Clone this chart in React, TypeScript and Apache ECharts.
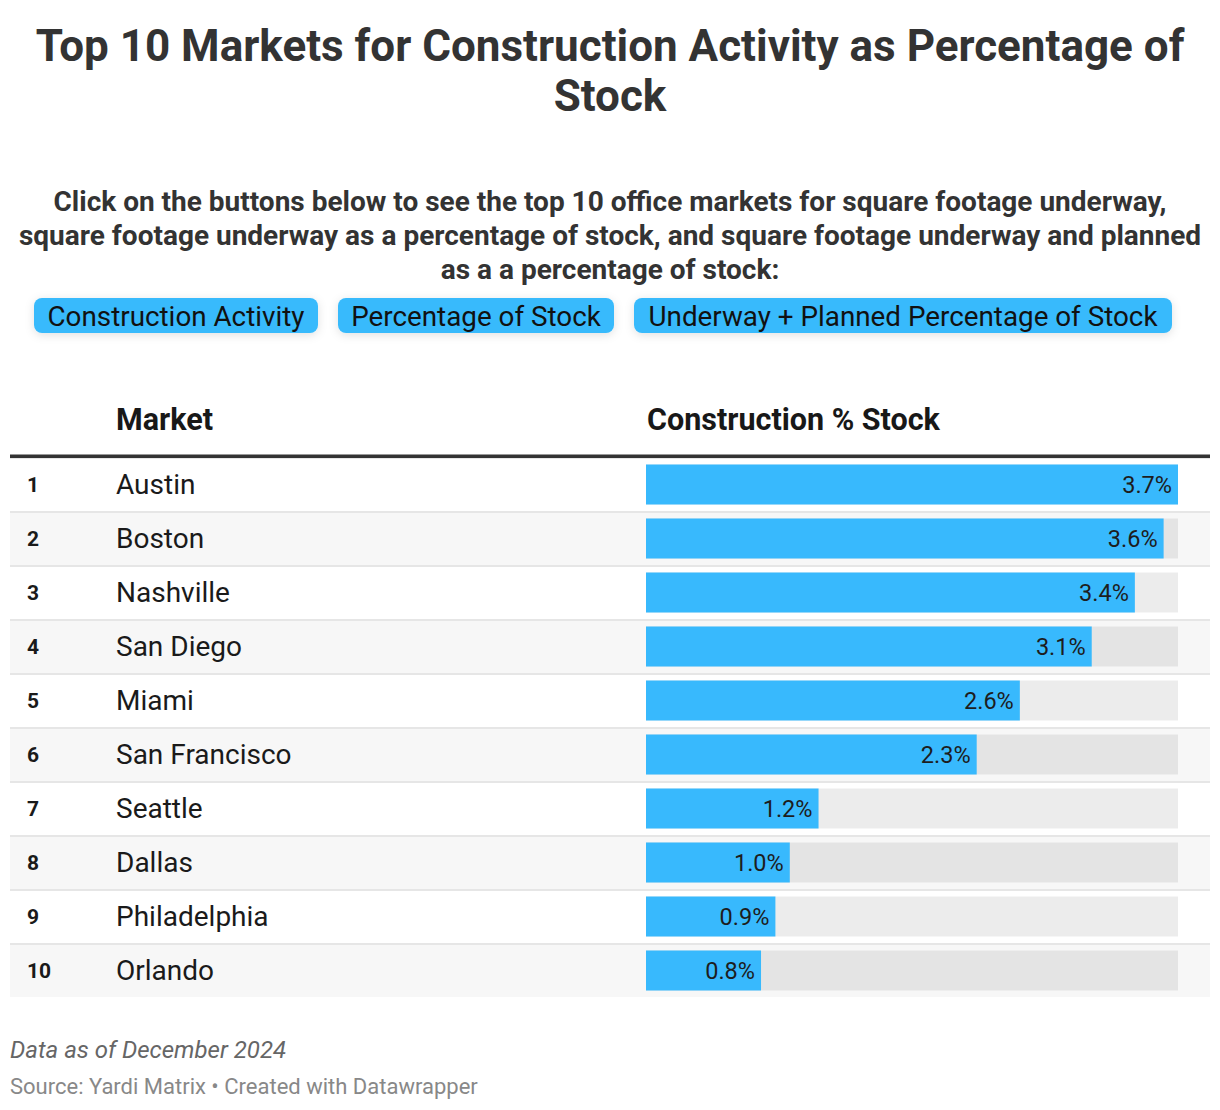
import React, { useEffect, useRef } from "react";
import * as echarts from "echarts";

const ranks = [1, 2, 3, 4, 5, 6, 7, 8, 9, 10];
const markets = [
  "Austin",
  "Boston",
  "Nashville",
  "San Diego",
  "Miami",
  "San Francisco",
  "Seattle",
  "Dallas",
  "Philadelphia",
  "Orlando",
];
const values = [3.7, 3.6, 3.4, 3.1, 2.6, 2.3, 1.2, 1.0, 0.9, 0.8];
const buttons = [
  "Construction Activity",
  "Percentage of Stock",
  "Underway + Planned Percentage of Stock",
];
const titleLines = ["Top 10 Markets for Construction Activity as Percentage of", "Stock"];
const subtitleLines = [
  "Click on the buttons below to see the top 10 office markets for square footage underway,",
  "square footage underway as a percentage of stock, and square footage underway and planned",
  "as a a percentage of stock:",
];
const colHeaders = ["Market", "Construction % Stock"];
const noteText = "Data as of December 2024";
const sourceText = "Source: Yardi Matrix \u2022 Created with Datawrapper";

const FONT = "Roboto, 'Noto Sans', sans-serif";

export default function App() {
  const ref = useRef<HTMLDivElement>(null);
  useEffect(() => {
    document.body.style.margin = "0";
    if (!ref.current) return;
    const chart = echarts.init(ref.current, null, { renderer: "svg" });

    const btnBoxes = [
      { x: 34, w: 284 },
      { x: 338, w: 276 },
      { x: 634, w: 538 },
    ];

    const centeredLines = (lines: string[], y0: number, step: number, size: number) =>
      lines.map((t, i) => ({
        type: "text",
        x: 610,
        y: y0 + i * step,
        style: {
          text: t,
          fontFamily: FONT,
          fontSize: size,
          fontWeight: "bold",
          fill: "#333333",
          align: "center",
          verticalAlign: "middle",
        },
      }));

    const option: any = {
      animation: false,
      backgroundColor: "#ffffff",
      textStyle: { fontFamily: FONT },
      graphic: [
        ...centeredLines(titleLines, 46, 50, 44),
        ...centeredLines(subtitleLines, 201, 34, 28),
        ...buttons.map((b, i) => ({
          type: "group",
          children: [
            {
              type: "rect",
              shape: { x: btnBoxes[i].x, y: 298, width: btnBoxes[i].w, height: 35, r: 8 },
              style: {
                fill: "#38bafc",
                shadowBlur: 10,
                shadowColor: "rgba(0,0,0,0.12)",
                shadowOffsetY: 2,
              },
            },
            {
              type: "text",
              x: btnBoxes[i].x + btnBoxes[i].w / 2,
              y: 316,
              style: {
                text: b,
                fontFamily: FONT,
                fontSize: 27.8,
                fill: "#111111",
                align: "center",
                verticalAlign: "middle",
              },
            },
          ],
        })),
        {
          type: "text",
          x: 116,
          y: 419,
          style: {
            text: colHeaders[0],
            fontFamily: FONT,
            fontSize: 30.5,
            fontWeight: "bold",
            fill: "#181818",
            verticalAlign: "middle",
          },
        },
        {
          type: "text",
          x: 647,
          y: 419,
          style: {
            text: colHeaders[1],
            fontFamily: FONT,
            fontSize: 30.5,
            fontWeight: "bold",
            fill: "#181818",
            verticalAlign: "middle",
          },
        },
        {
          type: "rect",
          z: 100,
          shape: { x: 10, y: 454.5, width: 1200, height: 3.5 },
          style: { fill: "#333333" },
        },
        {
          type: "rect",
          z: 100,
          shape: { x: 10, y: 997, width: 1200, height: 3 },
          style: { fill: "#ffffff" },
        },
        {
          type: "text",
          x: 10,
          y: 1050,
          style: {
            text: noteText,
            fontFamily: FONT,
            fontSize: 24,
            fontStyle: "italic",
            fill: "#666666",
            verticalAlign: "middle",
          },
        },
        {
          type: "text",
          x: 10,
          y: 1086,
          style: {
            text: sourceText,
            fontFamily: FONT,
            fontSize: 22,
            fill: "#888888",
            verticalAlign: "middle",
          },
        },
      ],
      grid: [
        { left: 10, width: 1200, top: 457.5, height: 540 },
        { left: 646, width: 532, top: 457.5, height: 540 },
      ],
      xAxis: [
        { type: "value", gridIndex: 0, min: 0, max: 1, show: false },
        { type: "value", gridIndex: 1, min: 0, max: 3.7, show: false },
      ],
      yAxis: [
        {
          type: "category",
          gridIndex: 0,
          inverse: true,
          data: markets,
          axisLine: { show: false },
          axisTick: { show: false },
          splitArea: { show: true, areaStyle: { color: ["#ffffff", "#f7f7f7"] } },
          splitLine: { show: true, lineStyle: { color: "#e6e6e6", width: 2 } },
          axisLabel: {
            inside: true,
            margin: 17,
            formatter: (v: string, idx: number) => `{n|${ranks[idx]}}{m|${v}}`,
            rich: {
              n: {
                width: 89,
                fontFamily: FONT,
                fontSize: 21,
                fontWeight: "bold",
                color: "#1a1a1a",
              },
              m: {
                fontFamily: FONT,
                fontSize: 28,
                color: "#1a1a1a",
              },
            },
          },
        },
        {
          type: "category",
          gridIndex: 1,
          inverse: true,
          data: markets,
          show: false,
        },
      ],
      series: [
        {
          type: "bar",
          xAxisIndex: 1,
          yAxisIndex: 1,
          data: values,
          barWidth: 40,
          itemStyle: { color: "#38b9fd" },
          showBackground: true,
          backgroundStyle: { color: "rgba(0,0,0,0.075)" },
          label: {
            show: true,
            position: "insideRight",
            distance: 6,
            formatter: (p: any) => `${Number(p.value).toFixed(1)}%`,
            fontFamily: FONT,
            fontSize: 23.5,
            color: "#1d1d1d",
          },
        },
      ],
    };

    chart.setOption(option);
    return () => chart.dispose();
  }, []);

  return <div ref={ref} style={{ width: 1220, height: 1110 }} />;
}
